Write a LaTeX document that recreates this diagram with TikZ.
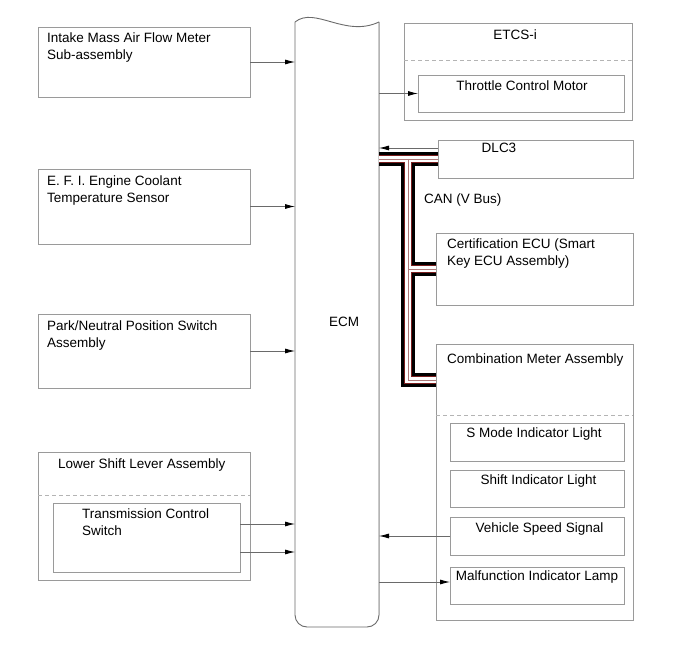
\documentclass[tikz,border=0pt]{standalone}
\usepackage{fontspec}
\setmainfont{Liberation Sans}
\usetikzlibrary{arrows.meta}
\definecolor{boxgray}{HTML}{9A9A9A}
\definecolor{linegray}{HTML}{6A6A6A}
\definecolor{dashgray}{HTML}{B4B4B4}
\definecolor{canred}{HTML}{7A1E1E}

\begin{document}
\begin{tikzpicture}[x=1pt,y=-1pt,
  box/.style={draw=boxgray,line width=0.9pt,inner sep=0pt,outer sep=0pt},
  txt/.style={inner sep=0pt,font=\fontsize{13.5}{16.5}\selectfont,align=left},
  sig/.style={draw=linegray,line width=0.8pt,-{Latex[length=10pt,width=5pt,black]}},
  sep/.style={draw=dashgray,line width=0.9pt,dash pattern=on 4pt off 3pt},
  canbus/.style={draw=black,line width=13.5pt,
    postaction={draw=canred,line width=7.2pt},
    postaction={draw=white,line width=6.6pt},
    postaction={draw=canred!60,line width=0.5pt}}]
 \useasboundingbox (0,0) rectangle (691,660);
 % ECM
 \node[inner sep=0pt,outer sep=0pt,minimum width=84pt,minimum height=605pt] (ecm) at (337,324.5) {};
 \draw[draw=linegray,line width=0.9pt,rounded corners=12pt]
   (ecm.north east) -- (ecm.south east) -- (ecm.south west) -- (ecm.north west);
 \draw[draw=linegray,line width=0.9pt] (ecm.north west)
   .. controls ([xshift=20pt,yshift=16pt]ecm.north west)
   and ([xshift=-34pt,yshift=-16pt]ecm.north east) .. (ecm.north east);
 \draw[draw=dashgray,line width=0.9pt] (ecm.north east) -- ([yshift=12pt]ecm.south east);
 \node[txt] (ecmtxt) at (344,322) {ECM};
 % inputs
 \node[box,minimum width=212pt,minimum height=70pt] (maf) at (144,62) {};
 \node[txt,anchor=north west] (maftxt) at (47,33) {Intake Mass Air Flow Meter\\Sub-assembly};
 \node[box,minimum width=212pt,minimum height=75pt] (efi) at (144,206.5) {};
 \node[txt,anchor=north west] (efitxt) at (47,176) {E. F. I. Engine Coolant\\Temperature Sensor};
 \node[box,minimum width=212pt,minimum height=74pt] (pnp) at (144,351) {};
 \node[txt,anchor=north west] (pnptxt) at (47,321) {Park/Neutral Position Switch\\Assembly};
 \node[box,minimum width=212pt,minimum height=128pt] (lsl) at (144,516) {};
 \node[txt,anchor=west] (lsltxt) at (58,465) {Lower Shift Lever Assembly};
 \draw[sep] ([yshift=-43pt]lsl.north west) -- ([yshift=-43pt]lsl.north east);
 \node[box,minimum width=187pt,minimum height=69pt] (tcs) at (146.5,537.5) {};
 \node[txt,anchor=north west] (tcstxt) at (82,509) {Transmission Control\\Switch};
 \draw[sig] (maf.east) -- (maf.east -| ecm.west);
 \draw[sig] (efi.east) -- (efi.east -| ecm.west);
 \draw[sig] (pnp.east) -- (pnp.east -| ecm.west);
 \draw[sig] ([yshift=13.5pt]tcs.east) -- ([yshift=13.5pt]tcs.east -| ecm.west);
 \draw[sig] ([yshift=-14.5pt]tcs.east) -- ([yshift=-14.5pt]tcs.east -| ecm.west);
 % ETCS-i
 \node[box,minimum width=228pt,minimum height=97pt] (etcs) at (518,71.5) {};
 \node[txt] (etcstxt) at (515,35) {ETCS-i};
 \draw[sep] ([yshift=-37pt]etcs.north west) -- ([yshift=-37pt]etcs.north east);
 \node[box,minimum width=206pt,minimum height=37pt] (tcm) at (521,93.5) {};
 \node[txt] (tcmtxt) at (522,86) {Throttle Control Motor};
 \draw[sig] (tcm.west -| ecm.east) -- (tcm.west);
 % CAN
 \node[box,minimum width=195pt,minimum height=38pt] (dlc) at (535.5,159) {};
 \node[txt] (dlctxt) at (499,148) {DLC3};
 \node[box,minimum width=197pt,minimum height=72pt] (cert) at (534.5,269) {};
 \node[txt,anchor=north west] (certtxt) at (447,239) {Certification ECU (Smart\\Key ECU Assembly)};
 \node[box,minimum width=197pt,minimum height=276pt] (comb) at (534.5,482) {};
 \node[txt,anchor=west] (combtxt) at (447,360) {Combination Meter Assembly};
 \draw[sep] ([yshift=-71pt]comb.north west) -- ([yshift=-71pt]comb.north east);
 \coordinate (cantap) at (408,0);
 \draw[canbus] (ecm.east |- dlc.west) -- (dlc.west)
   (cantap |- dlc.west) |- ([yshift=-36pt]comb.north west)
   (cantap |- cert.west) -- (cert.west);
 \node[txt,anchor=west] (cantxt) at (424,200) {CAN (V Bus)};
 \draw[sig] ([yshift=11pt]dlc.west) -- ([yshift=11pt]dlc.west -| ecm.east);
 % meter items
 \node[box,minimum width=174pt,minimum height=38pt] (smode) at (537,442) {};
 \node[txt] (smodetxt) at (534,434) {S Mode Indicator Light};
 \node[box,minimum width=174pt,minimum height=37pt] (shift) at (537,488.5) {};
 \node[txt] (shifttxt) at (538.5,481) {Shift Indicator Light};
 \node[box,minimum width=174pt,minimum height=38pt] (vss) at (537,536) {};
 \node[txt] (vsstxt) at (539.5,529) {Vehicle Speed Signal};
 \node[box,minimum width=174pt,minimum height=37pt] (mil) at (537,585.5) {};
 \node[txt] (miltxt) at (537,577) {Malfunction Indicator Lamp};
 \draw[sig] (vss.west) -- (vss.west -| ecm.east);
 \draw[sig] ([yshift=3.5pt]mil.west -| ecm.east) -- ([yshift=3.5pt]mil.west);
\end{tikzpicture}
\end{document}
